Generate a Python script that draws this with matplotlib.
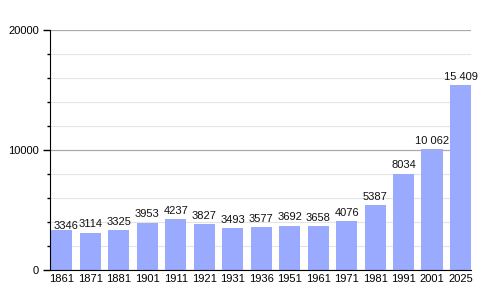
#!/usr/bin/env python3
"""Population bar chart, 1861-2025."""
import matplotlib
matplotlib.use("Agg")
import matplotlib.pyplot as plt
from matplotlib.ticker import MultipleLocator

plt.rcParams["font.family"] = ["Liberation Sans", "DejaVu Sans"]

years = ["1861", "1871", "1881", "1901", "1911", "1921", "1931", "1936",
         "1951", "1961", "1971", "1981", "1991", "2001", "2025"]
population = [3346, 3114, 3325, 3953, 4237, 3827, 3493, 3577,
              3692, 3658, 4076, 5387, 8034, 10062, 15409]

BAR = "#99aaff"


def label(v):
    # thousands separated by a space only above 9999
    return f"{v:,}".replace(",", " ") if v >= 10000 else str(v)


fig = plt.figure(figsize=(5, 3), dpi=100)
ax = fig.add_axes([50 / 500, 30 / 300, 421 / 500, 240 / 300])

xs = range(len(years))
ax.bar(xs, population, width=0.74, color=BAR, zorder=2)

for i, v in zip(xs, population):
    dx, dy = (3, -1) if i == 0 else (0, 2.5)
    ax.annotate(label(v), (i, v), xytext=(dx, dy), textcoords="offset points",
                ha="center", va="bottom", fontsize=8, color="#111111", zorder=3)

ax.set_xlim(-0.42, 14.37)
ax.set_ylim(0, 20000)
ax.set_xticks(list(xs))
ax.set_xticklabels(years, fontsize=8)
ax.tick_params(axis="x", length=0, pad=3)

ax.yaxis.set_major_locator(MultipleLocator(10000))
ax.yaxis.set_minor_locator(MultipleLocator(2000))
ax.yaxis.set_major_formatter(lambda v, p: f"{int(v)}")
ax.tick_params(axis="y", which="major", length=5, width=1, labelsize=8, pad=3)
ax.tick_params(axis="y", which="minor", length=2.5, width=1)

ax.grid(axis="y", which="minor", color="#e4e4e4", lw=0.8, zorder=0)
ax.grid(axis="y", which="major", color="#aaaaaa", lw=0.9, zorder=1)

for s in ("top", "right"):
    ax.spines[s].set_visible(False)
ax.spines["left"].set_color("black")
ax.spines["bottom"].set_color("black")
ax.spines["left"].set_zorder(4)
ax.spines["bottom"].set_zorder(4)

fig.savefig("out.png", dpi=100)
